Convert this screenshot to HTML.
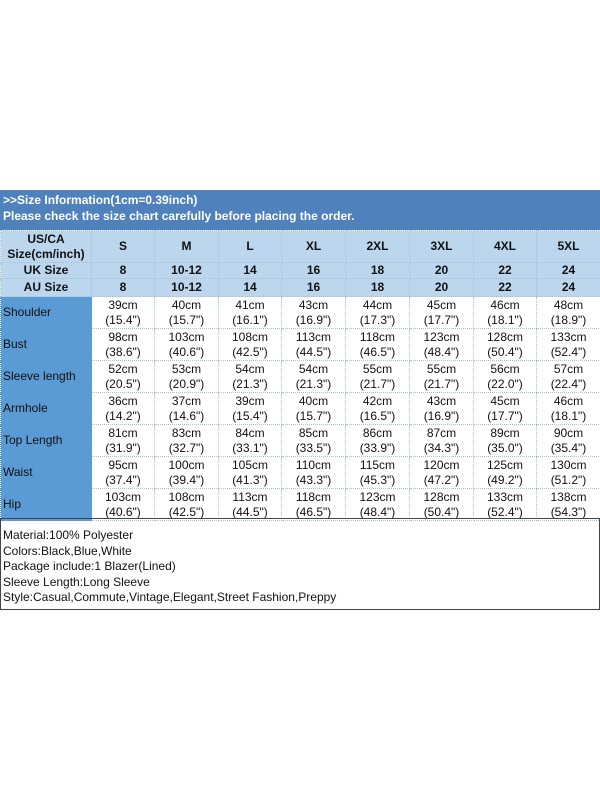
<!DOCTYPE html>
<html><head><style>
body{margin:0;width:600px;height:800px;background:#fff;position:relative;font-family:"Liberation Sans",Arial,sans-serif;overflow:hidden}
.hb{position:absolute;left:0;top:190px;width:600px;height:40px;background:#4f81bd;color:#fff;font-weight:bold;font-size:12px;line-height:16px;padding:2px 0 0 3px;box-sizing:border-box}
table{position:absolute;left:0;top:230px;border-collapse:collapse;width:600px;table-layout:fixed}
td{padding:0;text-align:center;font-size:12px;border:1px dotted #a8c0da;color:#111;line-height:15px}
.h td{background:#bcd6ee;font-weight:bold;color:#111}
td.l{background:#5b9bd5;text-align:left;padding-left:2px;border-color:#5b9bd5}
.d td{height:31px}
.notes{position:absolute;left:0;top:518px;width:600px;height:92px;box-sizing:border-box;border:1px solid #444;border-left:1px solid #444;font-size:12px;line-height:15.5px;padding:9px 0 0 2px;color:#111}
</style></head><body>
<div class="hb">&gt;&gt;Size Information(1cm=0.39inch)<br>Please check the size chart carefully before placing the order.</div>
<table>
<colgroup><col style="width:91px"><col style="width:63px"><col style="width:64px"><col style="width:63px"><col style="width:64px"><col style="width:64px"><col style="width:64px"><col style="width:63px"><col style="width:64px"></colgroup>
<tr class="h" style="height:32px"><td>US/CA<br>Size(cm/inch)</td><td>S</td><td>M</td><td>L</td><td>XL</td><td>2XL</td><td>3XL</td><td>4XL</td><td>5XL</td></tr>
<tr class="h" style="height:16px"><td>UK Size</td><td>8</td><td>10-12</td><td>14</td><td>16</td><td>18</td><td>20</td><td>22</td><td>24</td></tr>
<tr class="h" style="height:18px"><td>AU Size</td><td>8</td><td>10-12</td><td>14</td><td>16</td><td>18</td><td>20</td><td>22</td><td>24</td></tr>
<tr class="d"><td class="l">Shoulder</td><td>39cm<br>(15.4")</td><td>40cm<br>(15.7")</td><td>41cm<br>(16.1")</td><td>43cm<br>(16.9")</td><td>44cm<br>(17.3")</td><td>45cm<br>(17.7")</td><td>46cm<br>(18.1")</td><td>48cm<br>(18.9")</td></tr>
<tr class="d"><td class="l">Bust</td><td>98cm<br>(38.6")</td><td>103cm<br>(40.6")</td><td>108cm<br>(42.5")</td><td>113cm<br>(44.5")</td><td>118cm<br>(46.5")</td><td>123cm<br>(48.4")</td><td>128cm<br>(50.4")</td><td>133cm<br>(52.4")</td></tr>
<tr class="d"><td class="l">Sleeve length</td><td>52cm<br>(20.5")</td><td>53cm<br>(20.9")</td><td>54cm<br>(21.3")</td><td>54cm<br>(21.3")</td><td>55cm<br>(21.7")</td><td>55cm<br>(21.7")</td><td>56cm<br>(22.0")</td><td>57cm<br>(22.4")</td></tr>
<tr class="d"><td class="l">Armhole</td><td>36cm<br>(14.2")</td><td>37cm<br>(14.6")</td><td>39cm<br>(15.4")</td><td>40cm<br>(15.7")</td><td>42cm<br>(16.5")</td><td>43cm<br>(16.9")</td><td>45cm<br>(17.7")</td><td>46cm<br>(18.1")</td></tr>
<tr class="d"><td class="l">Top Length</td><td>81cm<br>(31.9")</td><td>83cm<br>(32.7")</td><td>84cm<br>(33.1")</td><td>85cm<br>(33.5")</td><td>86cm<br>(33.9")</td><td>87cm<br>(34.3")</td><td>89cm<br>(35.0")</td><td>90cm<br>(35.4")</td></tr>
<tr class="d"><td class="l">Waist</td><td>95cm<br>(37.4")</td><td>100cm<br>(39.4")</td><td>105cm<br>(41.3")</td><td>110cm<br>(43.3")</td><td>115cm<br>(45.3")</td><td>120cm<br>(47.2")</td><td>125cm<br>(49.2")</td><td>130cm<br>(51.2")</td></tr>
<tr class="d"><td class="l">Hip</td><td>103cm<br>(40.6")</td><td>108cm<br>(42.5")</td><td>113cm<br>(44.5")</td><td>118cm<br>(46.5")</td><td>123cm<br>(48.4")</td><td>128cm<br>(50.4")</td><td>133cm<br>(52.4")</td><td>138cm<br>(54.3")</td></tr>
</table>
<div class="notes">Material:100% Polyester<br>Colors:Black,Blue,White<br>Package include:1 Blazer(Lined)<br>Sleeve Length:Long Sleeve<br>Style:Casual,Commute,Vintage,Elegant,Street Fashion,Preppy</div>
</body></html>
